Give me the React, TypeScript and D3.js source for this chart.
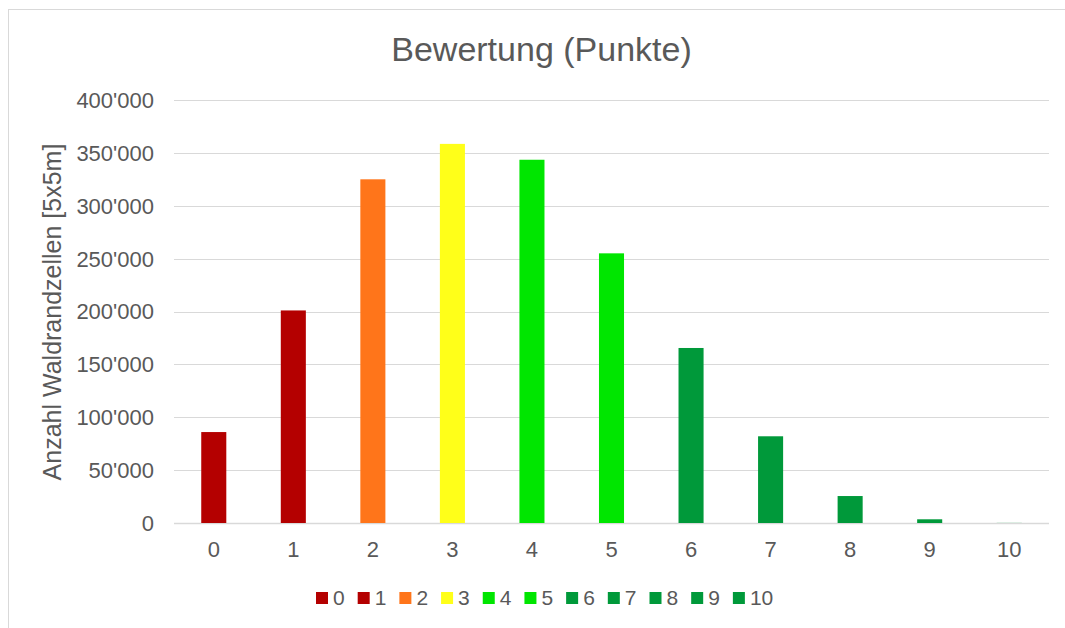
import { useEffect, useRef } from "react";
import * as d3 from "d3";

const categories = ["0", "1", "2", "3", "4", "5", "6", "7", "8", "9", "10"];
const values = [86000, 201000, 325000, 358500, 343500, 255000, 165500, 82000, 25500, 3500, 100];
const colors = [
  "#B40000", "#B40000", "#FF751A", "#FFFF19", "#00E600", "#00E600",
  "#00993A", "#00993A", "#00993A", "#00993A", "#00993A",
];
const yTicks = [0, 50000, 100000, 150000, 200000, 250000, 300000, 350000, 400000];

export default function App() {
  const ref = useRef<SVGSVGElement>(null);

  useEffect(() => {
    document.body.style.margin = "0";
    if (!ref.current) return;
    const svg = d3.select(ref.current);
    svg.selectAll("*").remove();

    const width = 1065;
    const height = 628;
    const margin = { top: 100, right: 16, bottom: 105, left: 174 };
    const font = "'Liberation Sans', Arial, sans-serif";
    const textColor = "#595959";

    // outer frame
    svg
      .append("rect")
      .attr("x", 8.5)
      .attr("y", 9.5)
      .attr("width", width + 10)
      .attr("height", height + 10)
      .attr("fill", "#fff")
      .attr("stroke", "#d9d9d9")
      .attr("stroke-width", 1);

    const x = d3
      .scaleBand()
      .domain(categories)
      .range([margin.left, width - margin.right])
      .paddingInner(0.685)
      .paddingOuter(0.3425);

    const y = d3
      .scaleLinear()
      .domain([0, 400000])
      .range([height - margin.bottom, margin.top]);

    const fmt = (v: number) => d3.format(",")(v).replace(/,/g, "'");

    // gridlines
    svg
      .append("g")
      .selectAll("line")
      .data(yTicks)
      .join("line")
      .attr("x1", margin.left)
      .attr("x2", width - margin.right)
      .attr("y1", (d) => Math.round(y(d)) + 0.5)
      .attr("y2", (d) => Math.round(y(d)) + 0.5)
      .attr("stroke", "#d9d9d9")
      .attr("stroke-width", (d) => (d === 0 ? 1.5 : 1));

    // bars
    svg
      .append("g")
      .selectAll("rect")
      .data(values)
      .join("rect")
      .attr("x", (_, i) => x(categories[i]) || 0)
      .attr("y", (d) => y(d))
      .attr("width", x.bandwidth())
      .attr("height", (d) => y(0) - y(d))
      .attr("fill", (_, i) => colors[i]);

    // y tick labels
    svg
      .append("g")
      .selectAll("text")
      .data(yTicks)
      .join("text")
      .attr("x", 154)
      .attr("y", (d) => y(d))
      .attr("dy", "0.36em")
      .attr("text-anchor", "end")
      .style("font-family", font)
      .style("font-size", "22px")
      .attr("fill", textColor)
      .text(fmt);

    // x tick labels
    svg
      .append("g")
      .selectAll("text")
      .data(categories)
      .join("text")
      .attr("x", (d) => (x(d) || 0) + x.bandwidth() / 2)
      .attr("y", 557)
      .attr("text-anchor", "middle")
      .style("font-family", font)
      .style("font-size", "22px")
      .attr("fill", textColor)
      .text((d) => d);

    // title
    svg
      .append("text")
      .attr("x", 541.5)
      .attr("y", 61)
      .attr("text-anchor", "middle")
      .style("font-family", font)
      .style("font-size", "34px")
      .attr("fill", textColor)
      .text("Bewertung (Punkte)");

    // y axis label
    svg
      .append("text")
      .attr("transform", `translate(61,312) rotate(-90)`)
      .attr("text-anchor", "middle")
      .style("font-family", font)
      .style("font-size", "25px")
      .attr("fill", textColor)
      .text("Anzahl Waldrandzellen [5x5m]");

    // legend
    const legend = svg.append("g");
    let lx = 316;
    categories.forEach((c, i) => {
      legend
        .append("rect")
        .attr("x", lx)
        .attr("y", 592)
        .attr("width", 12)
        .attr("height", 12)
        .attr("fill", colors[i]);
      const t = legend
        .append("text")
        .attr("x", lx + 17)
        .attr("y", 605)
        .style("font-family", font)
        .style("font-size", "21px")
        .attr("fill", textColor)
        .text(c);
      const w = (t.node() as SVGTextElement).getComputedTextLength();
      lx += 17 + w + 13;
    });
  }, []);

  return <svg ref={ref} width={1065} height={628} style={{ display: "block" }} />;
}
